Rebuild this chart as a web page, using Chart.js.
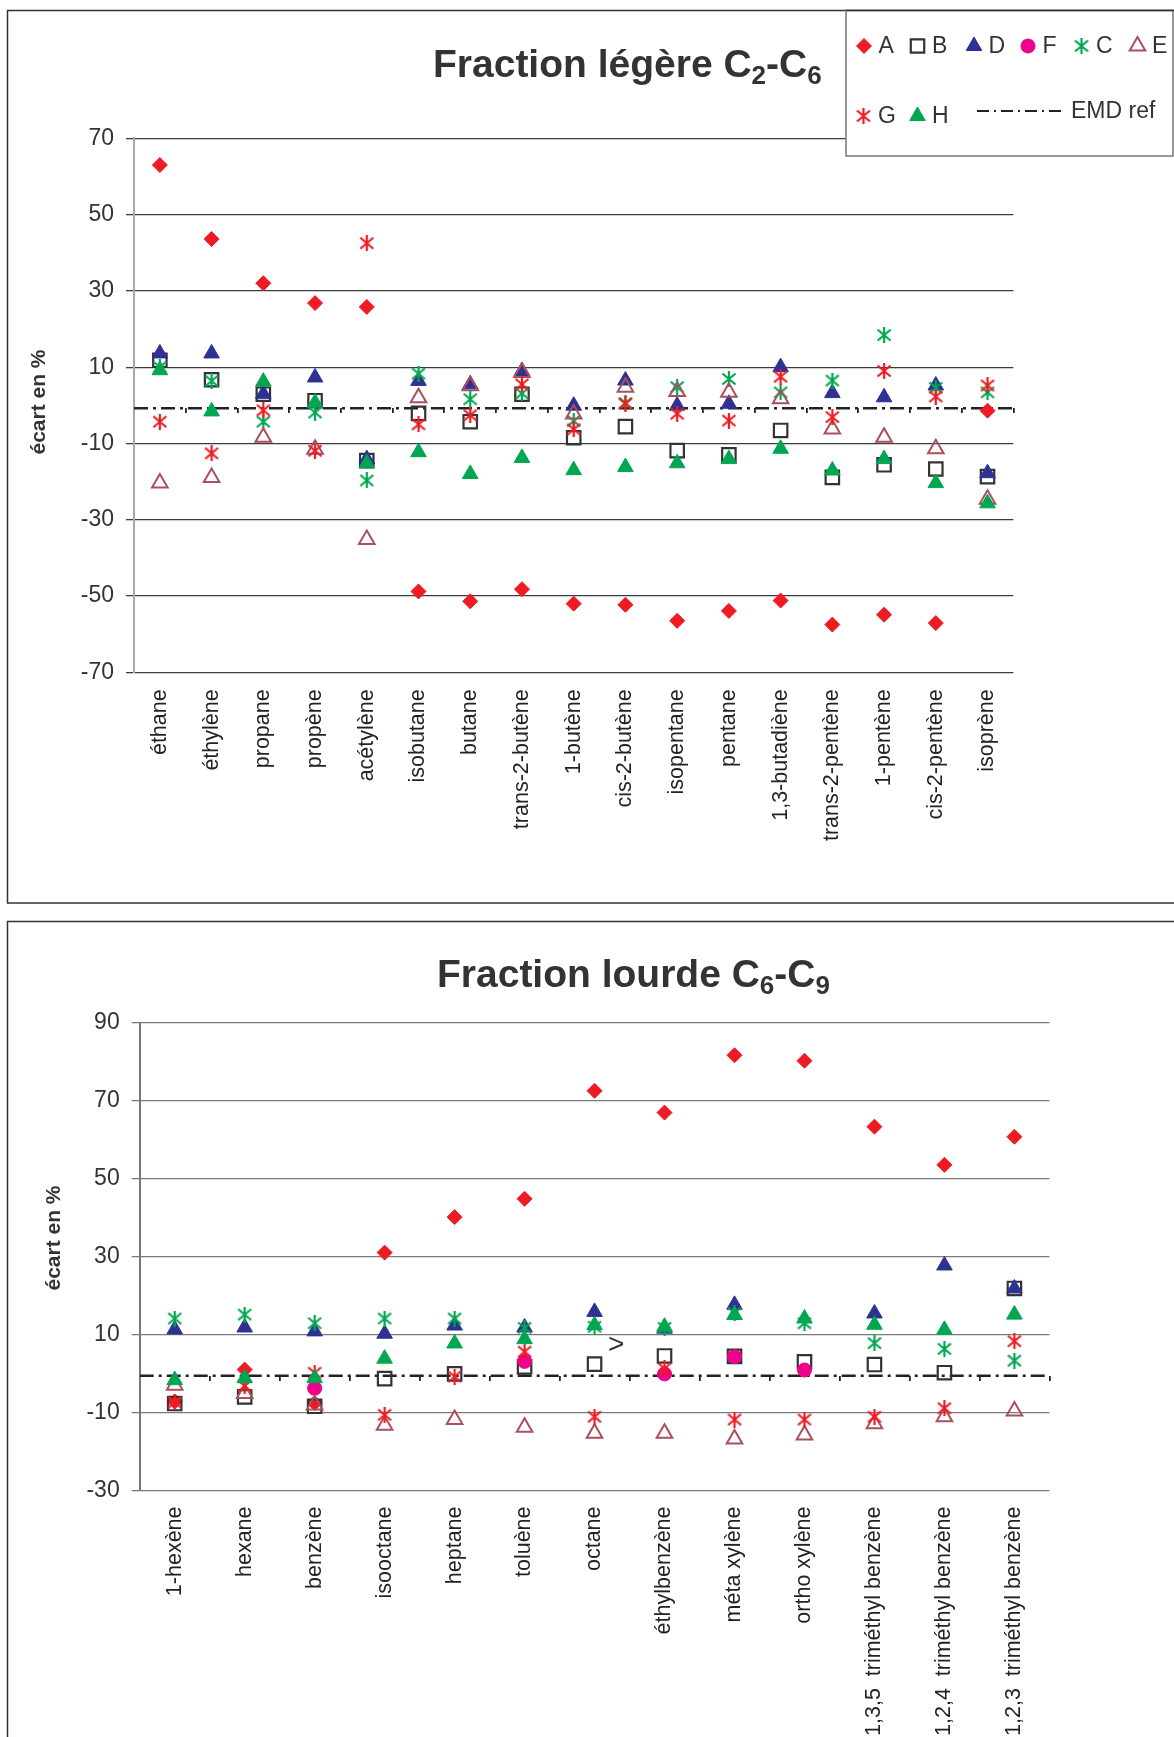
<!DOCTYPE html>
<html><head><meta charset="utf-8">
<script src="https://cdn.jsdelivr.net/npm/chart.js@4.4.1/dist/chart.umd.min.js"></script>
<style>
html,body{margin:0;padding:0;background:#fff;width:1174px;height:1737px;overflow:hidden}
canvas{position:absolute;left:0;display:block}
#c1{top:0}
#c2{top:905px}
</style></head><body>
<canvas id="c1" width="1174" height="905"></canvas>
<canvas id="c2" width="1174" height="832"></canvas>
<script>
const FONT = '"Liberation Sans", Arial, Helvetica, sans-serif';

// ---------- Top chart data : Fraction légère C2-C6 ----------
const catsTop = ['éthane','éthylène','propane','propène','acétylène','isobutane','butane','trans-2-butène','1-butène','cis-2-butène','isopentane','pentane','1,3-butadiène','trans-2-pentène','1-pentène','cis-2-pentène','isoprène'];
const topA = [63, 43.6, 32, 26.8, 25.8, -48.8, -51.4, -48.2, -52, -52.3, -56.5, -53.9, -51.2, -57.5, -54.9, -57.1, -1.4];
const topB = [11.8, 6.7, 2.9, 1.2, -14.5, -2.1, -4.3, 2.9, -8.5, -5.6, -11.9, -13, -6.6, -18.9, -15.6, -16.7, -18.7];
const topD = [13.6, 13.6, 3, 7.3, -14.1, 6.4, 5.5, 9.0, -0.1, 6.5, -0.1, 0.4, 10, 3.2, 2.1, 5.2, -17.8];
const topF = [null, null, null, null, null, null, null, null, null, null, null, null, null, null, null, null, null];
const topC = [10, 6.4, -4.3, -1.9, -19.7, 8.3, 1.6, 3.1, -4.1, 0.6, 4.75, 6.9, 3.4, 6.5, 18.4, 4.6, 3.4];
const topE = [-20.4, -18.9, -8.4, -11.5, -35.2, 2.0, 5.1, 8.6, -2.3, 4.75, 3.6, 3.4, 1.7, -6.2, -8.4, -11.4, -24.6];
const topG = [-4.3, -12.6, -1.3, -11.9, 42.5, -5.0, -2.6, 5.5, -6.3, 0.4, -2.2, -4, 7.5, -3.1, 9, 2.3, 5.2];
const topH = [9.2, -1.6, 6.2, 0.7, -15.2, -12.3, -18, -13.8, -17, -16.2, -15.2, -14.1, -11.4, -17.1, -14.1, -20.4, -25.7];
const yTicksTop = [-70, -50, -30, -10, 10, 30, 50, 70];
const emdRefTop = -0.8;

// ---------- Bottom chart data : Fraction lourde C6-C9 ----------
const catsBottom = ['1-hexène','hexane','benzène','isooctane','heptane','toluène','octane','éthylbenzène','méta xylène','ortho xylène','1,3,5  triméthyl benzène','1,2,4  triméthyl benzène','1,2,3  triméthyl benzène'];
const botA = [-7.2, 1.0, -7.6, 31, 40.1, 44.8, 72.5, 66.9, 81.6, 80.2, 63.3, 53.5, 60.7];
const botB = [-7.7, -6.0, -8.4, -1.3, -0.1, 1.7, 2.4, 4.5, 4.4, 3.0, 2.3, 0.2, 21.8];
const botD = [11.3, 11.8, 10.8, 10.2, 12.3, 11.8, 15.8, 11.5, 17.6, null, 15.4, 27.7, 21.8];
const botF = [null, null, -3.8, null, null, 3.1, null, -0.1, 4.3, 0.9, null, null, null];
const botC = [14.1, 15.1, 12.9, 14.1, 14.1, 11.7, 12, 11.7, 15.5, 12.9, 7.8, 6.3, 3.3];
const botE = [-3.0, -5.1, -8.1, -13.3, -11.8, -13.8, -15.3, -15.3, -16.8, -15.8, -12.9, -11.1, -9.6];
const botG = [-7.4, -3.2, 0.2, -10.6, -0.8, 5.6, -11.1, 1.3, -11.8, -11.8, -11.1, -8.9, 8.3];
const botH = [-1.7, -1.2, -1.2, 3.8, 7.7, 8.8, 12.4, 12, 15, 14.1, 12.5, 11.2, 15.1];
const yTicksBottom = [-30, -10, 10, 30, 50, 70, 90];
const emdRefBottom = -0.6;
const strayMarkBottom = {text: '>', x: 6.81, y: 7.3};

const seriesNames = ['A','B','D','F','C','E','G','H'];

// ---------- styles ----------
const RED = '#ED1C24', GREEN = '#00A651', NAVY = '#2E3192', MAGENTA = '#EC008C', ROSE = '#A9505C', DARK = '#333333';

function starCanvas(color, size, lw) {
  const c = document.createElement('canvas');
  c.width = size; c.height = size;
  const g = c.getContext('2d');
  g.strokeStyle = color; g.lineWidth = lw;
  const m = 1.5;
  g.beginPath();
  g.moveTo(m, m + 1); g.lineTo(size - m, size - m - 1);
  g.moveTo(size - m, m + 1); g.lineTo(m, size - m - 1);
  g.moveTo(size / 2, 0); g.lineTo(size / 2, size);
  g.stroke();
  return c;
}
const starGreen = starCanvas(GREEN, 16, 2.2);
const starRed = starCanvas(RED, 16, 2.2);

const styles = {
  A: {pointStyle: 'rectRot', pointRadius: 7.5, pointBackgroundColor: RED, pointBorderColor: RED, pointBorderWidth: 1},
  B: {pointStyle: 'rect', pointRadius: 9.5, pointBackgroundColor: 'rgba(0,0,0,0)', pointBorderColor: DARK, pointBorderWidth: 2.2},
  D: {pointStyle: 'triangle', pointRadius: 9, pointBackgroundColor: NAVY, pointBorderColor: NAVY, pointBorderWidth: 1},
  F: {pointStyle: 'circle', pointRadius: 7, pointBackgroundColor: MAGENTA, pointBorderColor: MAGENTA, pointBorderWidth: 1},
  C: {pointStyle: starGreen, pointRadius: 8, pointBackgroundColor: GREEN, pointBorderColor: GREEN, pointBorderWidth: 0},
  E: {pointStyle: 'triangle', pointRadius: 9, pointBackgroundColor: 'rgba(0,0,0,0)', pointBorderColor: ROSE, pointBorderWidth: 2},
  G: {pointStyle: starRed, pointRadius: 8, pointBackgroundColor: RED, pointBorderColor: RED, pointBorderWidth: 0},
  H: {pointStyle: 'triangle', pointRadius: 9, pointBackgroundColor: GREEN, pointBorderColor: GREEN, pointBorderWidth: 1}
};
const EMD_DASH = [14, 5, 3, 5];

function buildDatasets(valuesByName, nCats, emdValue) {
  const ds = seriesNames.map((name, i) => Object.assign({
    label: name, data: valuesByName[name], type: 'line', showLine: false,
    xAxisID: 'x', yAxisID: 'y', order: seriesNames.length - i
  }, styles[name], {pointHoverRadius: styles[name].pointRadius}));
  ds.push({
    label: 'EMD ref', type: 'line', xAxisID: 'xl', yAxisID: 'y', order: 20,
    data: [{x: 0, y: emdValue}, {x: nCats, y: emdValue}],
    borderColor: '#222', borderWidth: 2.5, borderDash: EMD_DASH, pointRadius: 0, fill: false
  });
  return ds;
}

// ---------- custom marker for legend ----------
function drawMarker(ctx, st, x, y) {
  ctx.save();
  const r = st.pointRadius;
  if (st.pointStyle instanceof HTMLCanvasElement) {
    ctx.drawImage(st.pointStyle, x - st.pointStyle.width / 2, y - st.pointStyle.height / 2);
    ctx.restore(); return;
  }
  ctx.fillStyle = st.pointBackgroundColor; ctx.strokeStyle = st.pointBorderColor; ctx.lineWidth = st.pointBorderWidth;
  ctx.beginPath();
  if (st.pointStyle === 'rectRot') {
    ctx.moveTo(x, y - r); ctx.lineTo(x + r, y); ctx.lineTo(x, y + r); ctx.lineTo(x - r, y); ctx.closePath();
  } else if (st.pointStyle === 'rect') {
    const s = Math.SQRT1_2 * r; ctx.rect(x - s, y - s, 2 * s, 2 * s);
  } else if (st.pointStyle === 'triangle') {
    ctx.moveTo(x, y - r); ctx.lineTo(x + r * 0.866, y + r / 2); ctx.lineTo(x - r * 0.866, y + r / 2); ctx.closePath();
  } else {
    ctx.arc(x, y, r, 0, Math.PI * 2);
  }
  ctx.fill();
  if (st.pointBorderWidth > 0) ctx.stroke();
  ctx.restore();
}

function drawTitle(ctx, parts, x, baseline) {
  ctx.save();
  ctx.fillStyle = DARK; ctx.textAlign = 'left'; ctx.textBaseline = 'alphabetic';
  let cx = x;
  for (const p of parts) {
    ctx.font = 'bold ' + (p.sub ? 26 : 39) + 'px ' + FONT;
    ctx.fillText(p.t, cx, baseline + (p.sub ? 7 : 0));
    cx += ctx.measureText(p.t).width;
  }
  ctx.restore();
}
function drawYTitle(ctx, text, x, y) {
  ctx.save();
  ctx.translate(x, y); ctx.rotate(-Math.PI / 2);
  ctx.font = 'bold 21px ' + FONT; ctx.fillStyle = DARK;
  ctx.textAlign = 'center'; ctx.textBaseline = 'middle';
  ctx.fillText(text, 0, 0);
  ctx.restore();
}

function makeOptions(cfg) {
  return {
    responsive: false, animation: false, events: [],
    layout: {padding: {left: 0, top: cfg.top, right: cfg.right, bottom: 0}},
    plugins: {legend: {display: false}, tooltip: {enabled: false}, title: {display: false}},
    scales: {
      x: {
        type: 'category', offset: true,
        grid: {display: false, drawTicks: false},
        border: {display: false},
        ticks: {autoSkip: false, maxRotation: 90, minRotation: 90, padding: cfg.labelPad,
          color: '#222', font: {family: FONT, size: 21.5}},
        afterFit: s => { s.height = cfg.xHeight; }
      },
      x2: {
        type: 'category', axis: 'x', offset: true, position: {y: cfg.emd},
        grid: {offset: true, drawOnChartArea: false, drawTicks: true, tickLength: 5, color: '#222', lineWidth: 1.8},
        border: {display: false},
        ticks: {display: false}
      },
      xl: {type: 'linear', axis: 'x', display: false, min: 0, max: cfg.n},
      y: {
        type: 'linear', min: cfg.min, max: cfg.max,
        afterBuildTicks: s => { s.ticks = cfg.ticks.map(v => ({value: v})); },
        grid: {color: cfg.gridColor, lineWidth: 1.3, tickLength: 8},
        border: {display: true, color: cfg.axisColor, width: 2},
        ticks: {padding: 12, color: DARK, font: {family: FONT, size: 23}},
        afterFit: s => { s.width = cfg.yWidth; }
      }
    }
  };
}

// ---------- Top chart ----------
const topPlugin = {
  id: 'topDeco',
  beforeDraw(chart) {
    const ctx = chart.ctx; ctx.save(); ctx.fillStyle = '#fff'; ctx.fillRect(0, 0, chart.width, chart.height); ctx.restore();
  },
  afterDraw(chart) {
    const ctx = chart.ctx;
    ctx.save();
    ctx.strokeStyle = DARK; ctx.lineWidth = 1.5;
    ctx.strokeRect(7.5, 10.5, 1200, 892.5);
    ctx.restore();
    drawTitle(ctx, [{t: 'Fraction légère C'}, {t: '2', sub: true}, {t: '-C'}, {t: '6', sub: true}], 433, 76.5);
    drawYTitle(ctx, 'écart en %', 39, 402);
    // legend
    ctx.save();
    ctx.fillStyle = '#fff'; ctx.fillRect(846, 10.5, 327, 145.5);
    ctx.strokeStyle = '#777'; ctx.lineWidth = 1.5; ctx.strokeRect(846, 10.5, 327, 145.5);
    ctx.strokeStyle = DARK; ctx.beginPath(); ctx.moveTo(846, 10.5); ctx.lineTo(1174, 10.5); ctx.stroke();
    ctx.font = '23px ' + FONT; ctx.fillStyle = DARK; ctx.textBaseline = 'alphabetic'; ctx.textAlign = 'left';
    const row1 = [['A', 864], ['B', 917.5], ['D', 974], ['F', 1028], ['C', 1081.5], ['E', 1137.5]];
    for (const [n, x] of row1) { drawMarker(ctx, styles[n], x, 46); ctx.fillText(n, x + 14.5, 53); }
    const row2 = [['G', 863.5], ['H', 917.5]];
    for (const [n, x] of row2) { drawMarker(ctx, styles[n], x, 116); ctx.fillText(n, x + 14.5, 123); }
    ctx.strokeStyle = '#222'; ctx.lineWidth = 2; ctx.setLineDash([12, 5, 2, 5]);
    ctx.beginPath(); ctx.moveTo(977, 111); ctx.lineTo(1062, 111); ctx.stroke();
    ctx.setLineDash([]);
    ctx.fillText('EMD ref', 1071, 118);
    ctx.restore();
  }
};

new Chart(document.getElementById('c1'), {
  type: 'line',
  data: {labels: catsTop, datasets: buildDatasets({A: topA, B: topB, D: topD, F: topF, C: topC, E: topE, G: topG, H: topH}, catsTop.length, emdRefTop)},
  options: makeOptions({top: 138.3, right: 160.6, xHeight: 232.7, yWidth: 134, labelPad: 17, emd: emdRefTop,
    n: catsTop.length, min: -70, max: 70, ticks: yTicksTop, gridColor: '#3c3c3c', axisColor: '#a8a8a8'}),
  plugins: [topPlugin]
});

// ---------- Bottom chart ----------
const bottomPlugin = {
  id: 'bottomDeco',
  beforeDraw(chart) {
    const ctx = chart.ctx; ctx.save(); ctx.fillStyle = '#fff'; ctx.fillRect(0, 0, chart.width, chart.height); ctx.restore();
  },
  afterDatasetsDraw(chart) {
    const ctx = chart.ctx;
    const px = chart.scales.xl.getPixelForValue(strayMarkBottom.x);
    const py = chart.scales.y.getPixelForValue(strayMarkBottom.y);
    ctx.save();
    ctx.font = '28px ' + FONT; ctx.fillStyle = DARK; ctx.textAlign = 'center'; ctx.textBaseline = 'middle';
    ctx.fillText(strayMarkBottom.text, px, py);
    ctx.restore();
  },
  afterDraw(chart) {
    const ctx = chart.ctx;
    ctx.save();
    ctx.strokeStyle = DARK; ctx.lineWidth = 1.5;
    ctx.strokeRect(7.5, 16.5, 1200, 900);
    ctx.restore();
    drawTitle(ctx, [{t: 'Fraction lourde C'}, {t: '6', sub: true}, {t: '-C'}, {t: '9', sub: true}], 437, 82.3);
    drawYTitle(ctx, 'écart en %', 54, 333);
  }
};

new Chart(document.getElementById('c2'), {
  type: 'line',
  data: {labels: catsBottom, datasets: buildDatasets({A: botA, B: botB, D: botD, F: botF, C: botC, E: botE, G: botG, H: botH}, catsBottom.length, emdRefBottom)},
  options: makeOptions({top: 117.5, right: 124.6, xHeight: 246.5, yWidth: 139.7, labelPad: 16, emd: emdRefBottom,
    n: catsBottom.length, min: -30, max: 90, ticks: yTicksBottom, gridColor: '#7a7a7a', axisColor: '#777'}),
  plugins: [bottomPlugin]
});
</script>
</body></html>
